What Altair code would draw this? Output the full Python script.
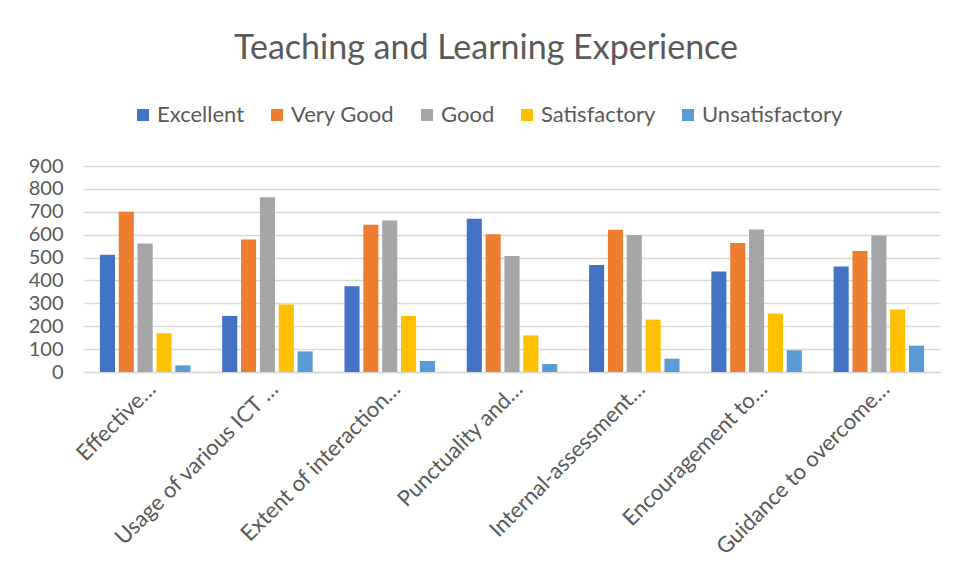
import altair as alt
import pandas as pd

categories = [
    "Effective…",
    "Usage of various ICT …",
    "Extent of interaction…",
    "Punctuality and…",
    "Internal-assessment…",
    "Encouragement to…",
    "Guidance to overcome…",
]
series = ["Excellent", "Very Good", "Good", "Satisfactory", "Unsatisfactory"]
excellent = [512, 245, 375, 669, 468, 439, 461]
very_good = [700, 579, 643, 602, 621, 564, 529]
good = [561, 764, 662, 507, 599, 623, 596]
satisfactory = [169, 295, 245, 160, 229, 255, 273]
unsatisfactory = [29, 90, 48, 35, 58, 95, 115]
colors = ["#4472C4", "#ED7D31", "#A5A5A5", "#FFC000", "#5B9BD5"]
y_ticks = [0, 100, 200, 300, 400, 500, 600, 700, 800, 900]

rows = []
for s, vals in zip(series, [excellent, very_good, good, satisfactory, unsatisfactory]):
    for c, v in zip(categories, vals):
        rows.append({"Category": c, "Rating": s, "Value": v})
df = pd.DataFrame(rows)

FONT = "Lato"
TXT = "#595959"

chart = (
    alt.Chart(df)
    .mark_bar()
    .encode(
        x=alt.X(
            "Category:N",
            sort=categories,
            scale=alt.Scale(paddingInner=0.26, paddingOuter=0.13),
            axis=alt.Axis(
                title=None,
                labelAngle=-45,
                labelFontSize=22,
                labelColor=TXT,
                labelFont=FONT,
                ticks=False,
                domainColor="#d9d9d9",
                domainWidth=1.5,
                labelLimit=500,
                labelPadding=6,
            ),
        ),
        xOffset=alt.XOffset("Rating:N", sort=series, scale=alt.Scale(paddingInner=0.2)),
        y=alt.Y(
            "Value:Q",
            scale=alt.Scale(domain=[0, 900]),
            axis=alt.Axis(
                title=None,
                values=y_ticks,
                grid=True,
                gridColor="#d9d9d9",
                gridWidth=1.5,
                domain=False,
                ticks=False,
                labelFontSize=20,
                labelColor=TXT,
                labelFont=FONT,
                labelPadding=21,
            ),
        ),
        color=alt.Color(
            "Rating:N",
            sort=series,
            scale=alt.Scale(domain=series, range=colors),
            legend=alt.Legend(
                title=None,
                orient="none",
                legendX=48,
                legendY=-62,
                direction="horizontal",
                symbolType="square",
                symbolSize=144,
                symbolStrokeWidth=0,
                labelFontSize=22,
                labelFont=FONT,
                labelColor=TXT,
                columnPadding=21,
                labelOffset=3,
            ),
        ),
    )
    .properties(
        width=856,
        height=206,
        title=alt.TitleParams(
            "Teaching and Learning Experience",
            fontSize=34,
            font=FONT,
            color=TXT,
            fontWeight="normal",
            anchor="middle",
            offset=38,
            dx=-26,
        ),
        padding={"left": 20, "top": 24, "right": 5, "bottom": 5},
    )
    .configure_view(stroke=None)
)

chart.save("out.html", embed_options={"renderer": "svg", "actions": False})
